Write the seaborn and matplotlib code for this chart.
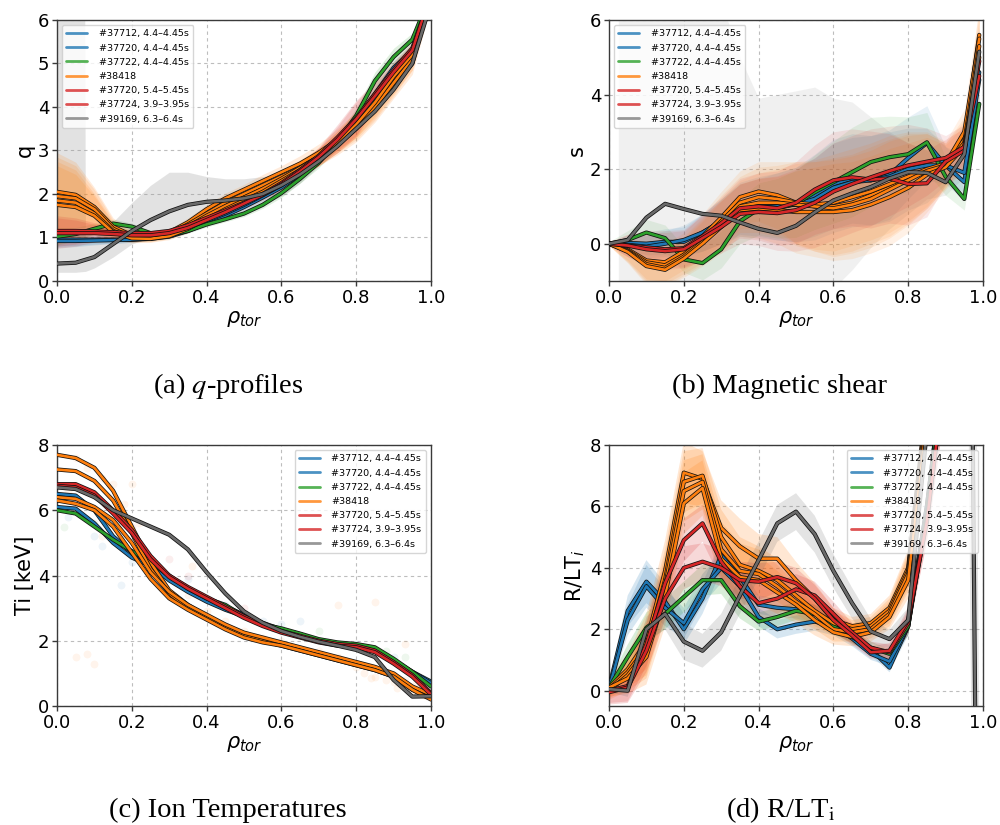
import numpy as np
import pandas as pd
import matplotlib
matplotlib.use("Agg")
import matplotlib.pyplot as plt
import seaborn as sns
from matplotlib import patheffects as pe
from matplotlib.lines import Line2D

# ---------------- data ----------------
LABELS = ["#37712, 4.4–4.45s", "#37720, 4.4–4.45s", "#37722, 4.4–4.45s", "#38418",
          "#37720, 5.4–5.45s", "#37724, 3.9–3.95s", "#39169, 6.3–6.4s"]
KEYS = ["b1", "b2", "g", "o1", "o2", "o3", "o4", "r1", "r2", "k"]

RHO = [0.0, 0.05, 0.1, 0.15, 0.2, 0.25, 0.3, 0.35, 0.4, 0.45, 0.5,
       0.55, 0.6, 0.65, 0.7, 0.75, 0.8, 0.85, 0.9, 0.95, 1.0]
RHO_B = [0.0, 0.05, 0.1, 0.15, 0.2, 0.25, 0.3, 0.35, 0.4, 0.45, 0.5,
         0.55, 0.6, 0.65, 0.7, 0.75, 0.8, 0.85, 0.9, 0.95, 0.99]

# (a) safety factor q
Q_B1 = [0.95, 0.95, 0.95, 0.95, 0.95, 0.97, 1.02, 1.15, 1.32, 1.5, 1.7, 1.92, 2.15, 2.45, 2.8, 3.2, 3.65, 4.2, 4.8, 5.3, 6.6]
Q_B2 = [0.92, 0.92, 0.93, 0.94, 0.95, 0.98, 1.05, 1.2, 1.38, 1.55, 1.75, 1.97, 2.2, 2.5, 2.85, 3.25, 3.7, 4.3, 4.9, 5.3, 6.6]
Q_G = [1.02, 1.08, 1.2, 1.32, 1.25, 1.1, 1.05, 1.15, 1.3, 1.42, 1.55, 1.75, 2.02, 2.35, 2.72, 3.2, 3.8, 4.6, 5.15, 5.55, 6.6]
Q_O1 = [2.05, 1.98, 1.7, 1.25, 1.05, 1.02, 1.12, 1.35, 1.65, 1.9, 2.1, 2.3, 2.5, 2.7, 2.95, 3.25, 3.6, 4.05, 4.6, 5.1, 6.6]
Q_O2 = [1.95, 1.9, 1.65, 1.2, 1.0, 1.0, 1.08, 1.3, 1.55, 1.8, 2.0, 2.2, 2.4, 2.6, 2.85, 3.15, 3.5, 3.95, 4.5, 5.0, 6.6]
Q_O3 = [1.85, 1.8, 1.55, 1.15, 1.0, 0.98, 1.05, 1.25, 1.5, 1.72, 1.92, 2.12, 2.35, 2.6, 2.85, 3.2, 3.55, 4.0, 4.55, 5.1, 6.6]
Q_O4 = [1.75, 1.7, 1.5, 1.12, 0.98, 0.97, 1.03, 1.2, 1.42, 1.65, 1.85, 2.05, 2.3, 2.55, 2.85, 3.2, 3.6, 4.1, 4.7, 5.2, 6.6]
Q_R1 = [1.15, 1.15, 1.14, 1.12, 1.1, 1.1, 1.15, 1.28, 1.45, 1.62, 1.8, 2.0, 2.25, 2.55, 2.88, 3.3, 3.75, 4.3, 4.85, 5.35, 6.6]
Q_R2 = [1.1, 1.1, 1.1, 1.08, 1.05, 1.05, 1.1, 1.22, 1.4, 1.58, 1.78, 1.98, 2.22, 2.52, 2.85, 3.25, 3.72, 4.25, 4.8, 5.3, 6.6]
Q_K = [0.4, 0.42, 0.55, 0.85, 1.15, 1.4, 1.6, 1.75, 1.82, 1.85, 1.9, 2.0, 2.2, 2.45, 2.75, 3.1, 3.5, 3.9, 4.4, 5.0, 6.4]
QERR_BLUE = [0.15, 0.13, 0.1, 0.08, 0.06, 0.05, 0.05, 0.05, 0.06, 0.06, 0.07, 0.08, 0.08, 0.1, 0.1, 0.12, 0.15, 0.15, 0.15, 0.15, 0.15]
QERR_GREEN = [0.2, 0.15, 0.12, 0.1, 0.08, 0.06, 0.05, 0.05, 0.06, 0.06, 0.07, 0.08, 0.1, 0.1, 0.12, 0.15, 0.18, 0.2, 0.2, 0.15, 0.15]
QERR_ORANGE = [0.9, 0.75, 0.45, 0.2, 0.1, 0.08, 0.08, 0.1, 0.1, 0.12, 0.12, 0.15, 0.15, 0.18, 0.2, 0.25, 0.3, 0.3, 0.3, 0.25, 0.25]
QERR_RED = [0.35, 0.3, 0.2, 0.12, 0.08, 0.06, 0.06, 0.08, 0.1, 0.1, 0.12, 0.12, 0.15, 0.15, 0.2, 0.3, 0.4, 0.3, 0.2, 0.15, 0.15]
QGRAY_RHO = [0.0, 0.05, 0.074, 0.076, 0.1, 0.15, 0.2, 0.25, 0.3, 0.35, 0.4, 0.45, 0.5, 0.55, 0.6, 0.65, 0.7]
QGRAY_LO = [0.2, 0.2, 0.22, 0.22, 0.3, 0.55, 0.85, 1.0, 1.1, 1.2, 1.35, 1.45, 1.6, 1.75, 1.95, 2.25, 2.65]
QGRAY_HI = [6.5, 6.5, 6.5, 0.95, 1.0, 1.36, 1.8, 2.2, 2.5, 2.5, 2.4, 2.35, 2.35, 2.4, 2.45, 2.55, 2.8]

# (b) magnetic shear s
S_B1 = [0, 0.02, 0.0, 0.05, 0.05, 0.3, 0.6, 0.95, 1.0, 1.0, 1.05, 1.3, 1.6, 1.75, 1.7, 1.85, 2.3, 2.7, 2.1, 1.65, 4.6]
S_B2 = [0, -0.03, -0.08, 0.0, 0.1, 0.3, 0.6, 0.9, 0.95, 1.0, 1.05, 1.2, 1.5, 1.65, 1.7, 1.8, 2.0, 2.1, 2.1, 1.9, 4.4]
S_G = [0, 0.1, 0.3, 0.15, -0.42, -0.52, -0.15, 0.6, 0.93, 0.95, 1.07, 1.38, 1.65, 1.92, 2.19, 2.32, 2.4, 2.72, 1.8, 1.2, 3.75]
S_O1 = [0, -0.15, -0.45, -0.5, -0.2, 0.2, 0.7, 1.25, 1.4, 1.3, 1.1, 1.0, 1.0, 1.1, 1.3, 1.5, 1.75, 1.95, 2.1, 2.8, 5.6]
S_O2 = [0, -0.18, -0.5, -0.58, -0.3, 0.1, 0.6, 1.1, 1.25, 1.2, 1.1, 1.05, 1.1, 1.25, 1.4, 1.6, 1.8, 2.0, 2.15, 3.0, 5.5]
S_O3 = [0, -0.2, -0.55, -0.65, -0.35, 0.05, 0.5, 1.0, 1.1, 1.1, 1.05, 1.0, 0.95, 1.05, 1.2, 1.45, 1.7, 1.95, 2.1, 2.7, 5.3]
S_O4 = [0, -0.22, -0.6, -0.7, -0.4, 0.0, 0.45, 0.9, 0.95, 0.9, 0.85, 0.85, 0.85, 0.9, 1.05, 1.25, 1.5, 1.85, 2.05, 2.6, 5.0]
S_R1 = [0, -0.05, -0.1, -0.15, -0.12, 0.2, 0.55, 0.95, 1.0, 0.95, 1.1, 1.45, 1.7, 1.78, 1.72, 1.75, 1.6, 1.62, 2.2, 2.5, 4.9]
S_R2 = [0, -0.05, -0.15, -0.2, -0.15, 0.15, 0.45, 0.8, 0.85, 0.82, 0.9, 1.1, 1.4, 1.6, 1.78, 1.95, 2.1, 2.2, 2.3, 2.6, 4.5]
S_K = [0, 0.1, 0.7, 1.07, 0.93, 0.8, 0.75, 0.57, 0.4, 0.29, 0.48, 0.84, 1.16, 1.35, 1.52, 1.75, 1.92, 1.9, 1.65, 2.4, 5.15]
SERR_BLUE = [0.05, 0.2, 0.3, 0.35, 0.4, 0.5, 0.6, 0.7, 0.8, 0.9, 1.0, 1.1, 1.2, 1.2, 1.2, 1.2, 1.1, 1.0, 0.5, 0.5, 0.5]
SERR_GREEN = [0.05, 0.25, 0.35, 0.35, 0.35, 0.45, 0.5, 0.6, 0.7, 0.8, 0.9, 1.0, 1.1, 1.2, 1.2, 1.1, 1.0, 0.8, 0.5, 0.3, 0.3]
SERR_ORANGE = [0.05, 0.3, 0.5, 0.5, 0.5, 0.6, 0.7, 0.7, 0.8, 0.9, 1.1, 1.2, 1.3, 1.3, 1.3, 1.3, 1.2, 1.0, 0.6, 0.6, 0.8]
SERR_RED = [0.05, 0.3, 0.45, 0.5, 0.5, 0.6, 0.7, 0.8, 0.9, 1.0, 1.1, 1.2, 1.3, 1.3, 1.3, 1.2, 1.1, 0.9, 0.6, 0.6, 0.6]
SGRAY_RHO = [0.025, 0.05, 0.1, 0.15, 0.2, 0.25, 0.3, 0.35, 0.4, 0.45, 0.5, 0.55, 0.6, 0.65, 0.7, 0.75, 0.8, 0.85, 0.9, 0.95, 0.99]
SGRAY_LO = [-2, -2, -2, -2, -2, -2, -2, -2, -2, -2, -2, -1.8, -1.2, -0.7, -0.1, 0.4, 0.8, 1.2, 1.3, 1.8, 4.5]
SGRAY_HI = [7, 7, 7, 7, 7, 7, 6.5, 5.0, 3.9, 4.0, 4.1, 4.2, 3.9, 3.8, 3.4, 3.0, 2.7, 2.5, 2.2, 3.0, 5.5]

# (c) ion temperature Ti [keV]
T_B1 = [6.5, 6.45, 6.0, 5.2, 4.7, 4.4, 3.9, 3.55, 3.3, 3.05, 2.8, 2.55, 2.35, 2.2, 2.0, 1.9, 1.85, 1.75, 1.4, 1.05, 0.75]
T_B2 = [6.1, 6.05, 5.6, 5.0, 4.55, 4.3, 3.85, 3.5, 3.2, 2.95, 2.75, 2.5, 2.35, 2.2, 2.0, 1.9, 1.85, 1.7, 1.4, 1.05, 0.7]
T_G = [6.0, 5.9, 5.5, 5.1, 4.75, 4.4, 4.0, 3.6, 3.3, 3.1, 2.75, 2.5, 2.38, 2.22, 2.05, 1.95, 1.9, 1.8, 1.45, 1.05, 0.6]
T_O1 = [7.7, 7.6, 7.3, 6.6, 5.5, 4.4, 3.55, 3.1, 2.75, 2.45, 2.2, 2.05, 1.9, 1.75, 1.6, 1.45, 1.3, 1.15, 0.95, 0.55, 0.3]
T_O2 = [7.25, 7.2, 6.9, 6.3, 5.3, 4.2, 3.45, 3.0, 2.7, 2.4, 2.15, 2.0, 1.85, 1.7, 1.55, 1.4, 1.25, 1.1, 0.9, 0.5, 0.25]
T_O3 = [6.4, 6.35, 6.1, 5.7, 5.0, 4.1, 3.5, 3.1, 2.8, 2.5, 2.25, 2.1, 1.95, 1.8, 1.65, 1.5, 1.35, 1.2, 1.0, 0.6, 0.35]
T_O4 = [6.3, 6.2, 6.0, 5.5, 4.7, 3.9, 3.3, 2.95, 2.65, 2.35, 2.1, 1.95, 1.85, 1.7, 1.55, 1.4, 1.25, 1.1, 0.9, 0.5, 0.2]
T_R1 = [6.8, 6.8, 6.55, 6.0, 5.4, 4.6, 4.0, 3.65, 3.35, 3.05, 2.75, 2.5, 2.3, 2.15, 2.0, 1.9, 1.85, 1.7, 1.35, 0.95, 0.4]
T_R2 = [6.75, 6.7, 6.45, 5.9, 5.3, 4.5, 3.95, 3.6, 3.3, 3.0, 2.7, 2.45, 2.25, 2.1, 1.95, 1.85, 1.8, 1.65, 1.3, 0.9, 0.35]
T_K = [6.7, 6.65, 6.4, 6.0, 5.75, 5.5, 5.25, 4.8, 4.1, 3.45, 2.9, 2.55, 2.3, 2.12, 1.97, 1.85, 1.72, 1.5, 0.8, 0.29, 0.3]
# faint measurement points (c)
PTS_O_X = [0.05, 0.08, 0.12, 0.15, 0.18, 0.22, 0.26, 0.3, 0.35, 0.4, 0.45, 0.5, 0.55, 0.6, 0.7, 0.75, 0.8, 0.82,
           0.85, 0.88, 0.9, 0.92, 0.94, 0.95, 0.96, 0.97, 0.98, 0.99, 0.93, 0.96, 0.1, 0.08, 0.05, 0.85, 0.93, 0.75,
           0.12, 0.03, 0.2, 0.36, 0.86, 0.9, 0.97, 0.91, 0.84]
PTS_O_Y = [7.6, 7.3, 7.0, 6.8, 6.2, 5.6, 4.2, 3.9, 3.4, 2.9, 2.6, 2.3, 2.1, 2.0, 1.7, 1.5, 1.2, 1.0,
           0.9, 0.8, 0.75, 0.7, 0.6, 0.5, 0.45, 0.4, 0.35, 0.3, 0.8, 0.7, 1.3, 1.6, 1.5, 3.2, 1.9, 3.1,
           5.2, 6.6, 6.8, 4.3, 1.1, 0.95, 0.6, 0.55, 0.85]
PTS_B_X = [0.03, 0.1, 0.12, 0.17, 0.2, 0.35, 0.45, 0.55, 0.6, 0.65, 0.8, 0.9, 0.95]
PTS_B_Y = [5.8, 5.2, 4.9, 3.7, 4.4, 3.9, 3.1, 2.6, 2.5, 2.6, 1.9, 1.5, 1.0]
PTS_G_X = [0.02, 0.1, 0.7, 0.88, 0.93]
PTS_G_Y = [5.5, 5.6, 2.3, 1.7, 1.5]
PTS_R_X = [0.05, 0.1, 0.2, 0.3, 0.35, 0.5, 0.6]
PTS_R_Y = [6.2, 6.5, 5.5, 4.5, 4.0, 3.0, 2.3]

# (d) normalised gradient R/LTi
D_B1 = [0.1, 2.6, 3.55, 2.9, 2.0, 3.0, 4.4, 3.7, 2.8, 2.7, 2.65, 2.5, 2.2, 1.8, 1.35, 0.75, 2.1, 6.0, 11, 40, 40]
D_B2 = [0.05, 2.3, 3.4, 2.7, 2.2, 3.3, 4.0, 3.4, 2.4, 2.0, 2.15, 2.25, 2.1, 1.7, 1.2, 0.95, 2.1, 6.0, 11, 40, 40]
D_G = [0.1, 1.1, 2.05, 2.5, 3.05, 3.6, 3.6, 2.75, 2.25, 2.4, 2.6, 2.5, 2.1, 1.75, 1.4, 1.2, 2.1, 5.8, 11, 40, 40]
D_O1 = [0.1, 0.7, 1.6, 3.9, 7.1, 6.9, 5.3, 4.7, 4.3, 4.3, 3.6, 3.0, 2.3, 2.1, 2.2, 2.7, 4.0, 9.5, 16, 40, 40]
D_O2 = [0.05, 0.6, 1.4, 3.6, 6.8, 7.0, 5.0, 4.1, 3.9, 3.6, 3.1, 2.6, 2.2, 2.0, 2.1, 2.6, 3.9, 9.3, 16, 40, 40]
D_O3 = [0.0, 0.5, 1.3, 3.4, 6.5, 6.8, 4.6, 3.9, 3.8, 3.4, 2.9, 2.5, 2.0, 1.9, 2.0, 2.5, 3.8, 9.0, 16, 40, 40]
D_O4 = [0.1, 0.4, 1.1, 3.1, 6.1, 6.6, 4.3, 3.7, 3.6, 3.2, 2.8, 2.3, 1.9, 1.75, 1.9, 2.4, 3.6, 8.8, 16, 40, 40]
D_R1 = [0.0, 0.15, 1.5, 3.5, 4.9, 5.45, 4.2, 3.4, 2.85, 3.0, 3.3, 3.1, 2.5, 1.9, 1.4, 1.25, 2.2, 5.6, 10.5, 40, 40]
D_R2 = [-0.05, 0.1, 1.3, 3.0, 4.0, 4.2, 4.0, 3.6, 3.55, 3.7, 3.5, 3.0, 2.3, 1.8, 1.25, 1.3, 2.3, 5.5, 10.5, 40, 40]
D_K = [0.05, 0.0, 2.0, 2.5, 1.6, 1.3, 1.9, 3.1, 4.25, 5.45, 5.83, 5.1, 3.9, 2.85, 1.93, 1.68, 2.3, 8.5, 20, 40, -30]
DERR_BLUE = [0.15, 0.5, 0.7, 0.6, 0.5, 0.5, 0.5, 0.4, 0.3, 0.3, 0.3, 0.3, 0.3, 0.25, 0.2, 0.15, 0.3, 0.5, 1.0, 2, 2]
DERR_GREEN = [0.2, 0.4, 0.5, 0.5, 0.5, 0.5, 0.45, 0.4, 0.3, 0.3, 0.3, 0.3, 0.25, 0.2, 0.2, 0.15, 0.3, 0.5, 1.0, 2, 2]
DERR_ORANGE = [0.3, 0.5, 0.9, 1.0, 1.0, 0.9, 0.9, 0.9, 0.8, 0.7, 0.6, 0.5, 0.4, 0.3, 0.3, 0.4, 0.6, 0.8, 1.2, 3, 3]
DERR_RED = [0.4, 0.5, 0.7, 0.7, 0.7, 0.6, 0.6, 0.6, 0.6, 0.5, 0.5, 0.45, 0.4, 0.3, 0.2, 0.25, 0.4, 0.7, 1.2, 3, 3]
DERR_GRAY = [0.1, 0.2, 0.4, 0.5, 0.6, 0.55, 0.6, 0.6, 0.6, 0.6, 0.6, 0.6, 0.55, 0.5, 0.4, 0.3, 0.4, 0.6, 1.0, 15, 15]

# ---------------- style ----------------
sns.set_theme(style="white")
plt.rcParams["font.family"] = ["DejaVu Sans"]
plt.rcParams["axes.edgecolor"] = "#3a3a3a"
plt.rcParams["axes.linewidth"] = 1.0
plt.rcParams["text.color"] = "black"
plt.rcParams["axes.labelcolor"] = "black"
plt.rcParams["xtick.color"] = "black"
plt.rcParams["ytick.color"] = "black"
plt.rcParams["xtick.bottom"] = True
plt.rcParams["ytick.left"] = True

C_BLUE, C_ORANGE, C_GREEN, C_RED, C_GRAY = "#1f77b4", "#ff7f0e", "#2ca02c", "#d62728", "#6a6a6a"
COLOR = {"b1": C_BLUE, "b2": C_BLUE, "g": C_GREEN, "o1": C_ORANGE, "o2": C_ORANGE,
         "o3": C_ORANGE, "o4": C_ORANGE, "r1": C_RED, "r2": C_RED, "k": C_GRAY}
GROUP = {"b1": "blue", "b2": "blue", "g": "green", "o1": "orange", "o2": "orange",
         "o3": "orange", "o4": "orange", "r1": "red", "r2": "red", "k": "gray"}
LEG_COLORS = [C_BLUE, C_BLUE, C_GREEN, C_ORANGE, C_RED, C_RED, "#7f7f7f"]

fig = plt.figure(figsize=(10, 8.25), dpi=100)
W, H = 0.374, 0.3164
ax_a = fig.add_axes([0.057, 0.6594, W, H])
ax_b = fig.add_axes([0.609, 0.6594, W, H])
ax_c = fig.add_axes([0.057, 0.1442, W, H])
ax_d = fig.add_axes([0.609, 0.1442, W, H])

STROKE = [pe.Stroke(linewidth=3.0, foreground="#111111"), pe.Normal()]


def draw_lines(ax, rho, series):
    for key in KEYS:
        df = pd.DataFrame({"rho": rho, "val": series[key]})
        sns.lineplot(data=df, x="rho", y="val", ax=ax, color=COLOR[key], lw=1.9,
                     estimator=None, sort=False, path_effects=STROKE, zorder=3)


def draw_bands(ax, rho, series, errs, alpha=0.15):
    for key in KEYS:
        e = errs.get(GROUP[key])
        if e is None:
            continue
        v = np.asarray(series[key], float)
        e = np.asarray(e, float)
        ax.fill_between(rho, v - e, v + e, color=COLOR[key], alpha=alpha, lw=0, zorder=1)


def finish(ax, ylim, yticks, ylabel, legloc):
    ax.set_xlim(0, 1)
    ax.set_ylim(*ylim)
    ax.set_xticks([0, 0.2, 0.4, 0.6, 0.8, 1.0])
    ax.set_xticklabels(["0.0", "0.2", "0.4", "0.6", "0.8", "1.0"])
    ax.set_yticks(yticks)
    ax.tick_params(labelsize=13, length=3.5, width=1.0, color="#3a3a3a", pad=2)
    ax.grid(True, ls=(0, (3, 3)), color="#bdbdbd", lw=0.8, zorder=0)
    ax.set_axisbelow(True)
    ax.set_xlabel(r"$\rho_{tor}$", fontsize=15, labelpad=2)
    ax.set_ylabel(ylabel, fontsize=15, labelpad=2)
    handles = [Line2D([0], [0], color=c, lw=2.0, alpha=0.8) for c in LEG_COLORS]
    ax.legend(handles, LABELS, loc=legloc, fontsize=6.8, labelspacing=0.55, handlelength=2.2,
              framealpha=0.8, edgecolor="#cccccc", borderpad=0.5, handletextpad=1.2)


# (a)
sa = {"b1": Q_B1, "b2": Q_B2, "g": Q_G, "o1": Q_O1, "o2": Q_O2, "o3": Q_O3, "o4": Q_O4,
      "r1": Q_R1, "r2": Q_R2, "k": Q_K}
ax_a.fill_between(QGRAY_RHO, QGRAY_LO, QGRAY_HI, color="#9a9a9a", alpha=0.28, lw=0, zorder=1)
draw_bands(ax_a, RHO, sa, {"blue": QERR_BLUE, "green": QERR_GREEN, "orange": QERR_ORANGE, "red": QERR_RED}, 0.15)
draw_lines(ax_a, RHO, sa)
finish(ax_a, (0, 6), [0, 1, 2, 3, 4, 5, 6], "q", "upper left")

# (b)
sb = {"b1": S_B1, "b2": S_B2, "g": S_G, "o1": S_O1, "o2": S_O2, "o3": S_O3, "o4": S_O4,
      "r1": S_R1, "r2": S_R2, "k": S_K}
ax_b.fill_between(SGRAY_RHO, SGRAY_LO, SGRAY_HI, color="#b0b0b0", alpha=0.18, lw=0, zorder=1)
draw_bands(ax_b, RHO_B, sb, {"blue": SERR_BLUE, "green": SERR_GREEN, "orange": SERR_ORANGE, "red": SERR_RED}, 0.1)
draw_lines(ax_b, RHO_B, sb)
finish(ax_b, (-1, 6), [0, 2, 4, 6], "s", "upper left")

# (c)
sc = {"b1": T_B1, "b2": T_B2, "g": T_G, "o1": T_O1, "o2": T_O2, "o3": T_O3, "o4": T_O4,
      "r1": T_R1, "r2": T_R2, "k": T_K}
for xs, ys, c in [(PTS_O_X, PTS_O_Y, C_ORANGE), (PTS_B_X, PTS_B_Y, C_BLUE),
                  (PTS_G_X, PTS_G_Y, C_GREEN), (PTS_R_X, PTS_R_Y, C_RED)]:
    sns.scatterplot(x=xs, y=ys, ax=ax_c, color=c, alpha=0.08, s=32, linewidth=0, zorder=2)
draw_lines(ax_c, RHO, sc)
finish(ax_c, (0, 8), [0, 2, 4, 6, 8], "Ti [keV]", "upper right")

# (d)
sd = {"b1": D_B1, "b2": D_B2, "g": D_G, "o1": D_O1, "o2": D_O2, "o3": D_O3, "o4": D_O4,
      "r1": D_R1, "r2": D_R2, "k": D_K}
draw_bands(ax_d, RHO, sd, {"blue": DERR_BLUE, "green": DERR_GREEN, "orange": DERR_ORANGE,
                           "red": DERR_RED, "gray": DERR_GRAY}, 0.18)
draw_lines(ax_d, RHO, sd)
finish(ax_d, (-0.5, 8), [0, 2, 4, 6, 8], r"R/LT$_i$", "upper right")

# captions
cap = dict(fontsize=20.5, family="Liberation Serif", ha="center", va="baseline", math_fontfamily="stix")
fig.text(0.228, 0.5236, r"(a) $q$-profiles", **cap)
fig.text(0.780, 0.5236, "(b) Magnetic shear", **cap)
fig.text(0.228, 0.0097, "(c) Ion Temperatures", **cap)
fig.text(0.781, 0.0097, r"(d) R/LT$_\mathrm{i}$", **cap)

fig.savefig("out.png", dpi=100, facecolor="white")
